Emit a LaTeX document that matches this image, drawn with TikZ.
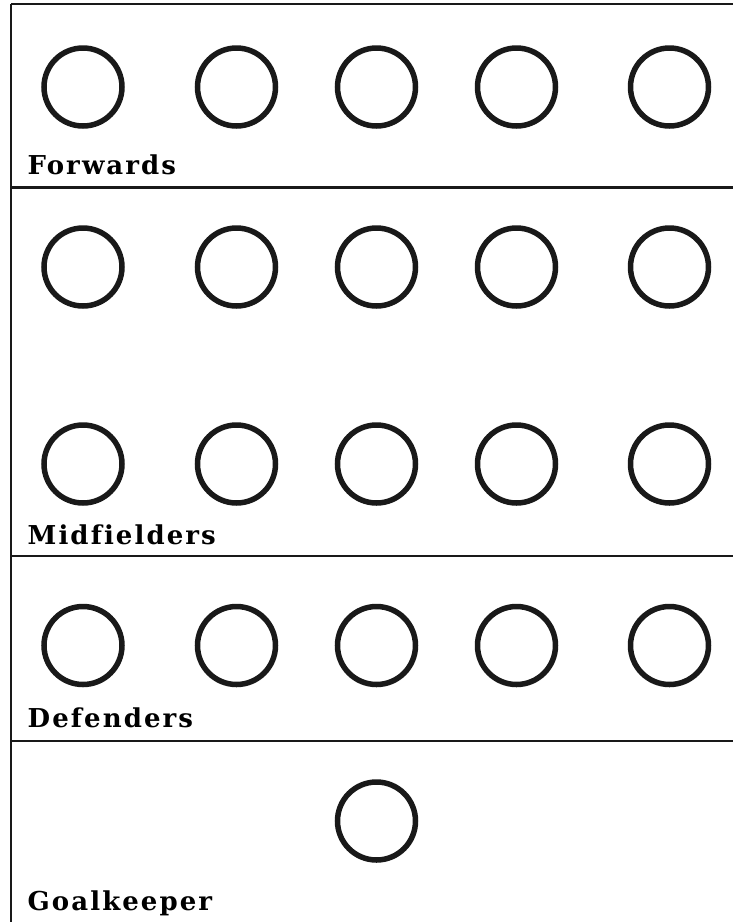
\documentclass[tikz,border=0pt]{standalone}
\usepackage{fontspec}
\setmainfont{DejaVu Serif}
\newfontfamily\labelfont[LetterSpace=8,Ligatures=NoCommon]{DejaVu Serif}
\begin{document}
\begin{tikzpicture}[x=1pt,y=-1pt,
  player/.style={circle,draw=black!90,line width=5.5pt,minimum size=78pt,inner sep=0pt},
  rule/.style={draw=black!90,line width=2.5pt},
  grouplabel/.style={anchor=base west,inner sep=0pt,font=\labelfont\bfseries\fontsize{26}{29}\selectfont}]
\useasboundingbox (0,0) rectangle (733,922);
% frame lines
\coordinate (tl) at (11,4);
\coordinate (tr) at (733,4);
\coordinate (bl) at (11,922);
\coordinate (l1) at (11,187.5);
\coordinate (r1) at (733,187.5);
\coordinate (l2) at (11,556);
\coordinate (r2) at (733,556);
\coordinate (l3) at (11,741);
\coordinate (r3) at (733,741);
\draw[rule] (tl) -- (tr);
\draw[rule] (tl) -- (bl);
\draw[rule] (l1) -- (r1);
\draw[rule] (l2) -- (r2);
\draw[rule] (l3) -- (r3);
% players
\foreach \r/\y in {f/87,ma/267,mb/464,d/645.5}{
  \foreach \i/\x in {1/83,2/236.5,3/376.5,4/516.5,5/669.5}{
    \node[player] (\r\i) at (\x,\y) {};
  }
}
\node[player] (gk) at (376.5,821) {};
% labels
\node[grouplabel] (lf) at (27.5,174) {Forwards};
\node[grouplabel] (lm) at (27.5,544) {Midfielders};
\node[grouplabel] (ld) at (27.5,727) {Defenders};
\node[grouplabel] (lg) at (27.5,910) {Goalkeeper};
\end{tikzpicture}
\end{document}
